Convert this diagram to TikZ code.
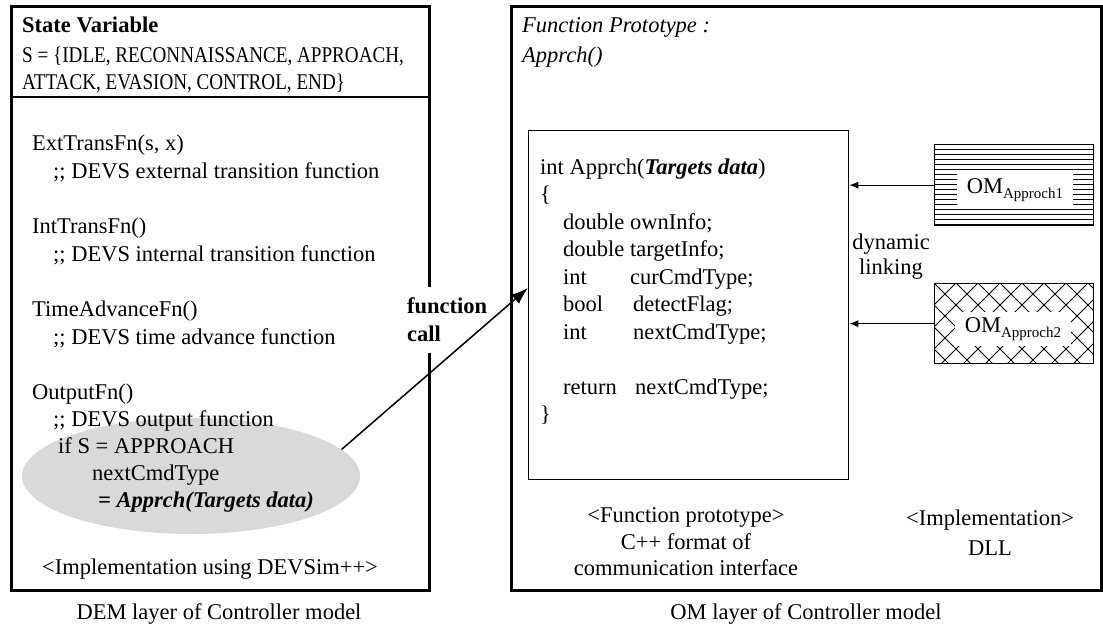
\documentclass[tikz,border=0pt]{standalone}
\usepackage{fontspec}
\setmainfont{Liberation Serif}
\usetikzlibrary{arrows.meta,shapes.geometric}
\newcommand\myfs{\fontsize{22.5}{28}\selectfont}
\newcommand\mysub[1]{\raisebox{-5pt}{\fontsize{15}{15}\selectfont #1}}
\begin{document}
\begin{tikzpicture}[x=1pt,y=-1pt,
  tl/.style={anchor=base west, inner sep=0pt, font=\myfs},
  tc/.style={anchor=base, inner sep=0pt, font=\myfs},
  frame/.style={draw, line width=3pt, anchor=north west, inner sep=0pt},
  thinbox/.style={draw, line width=1.3pt, anchor=north west, inner sep=0pt},
  omlab/.style={fill=white, inner sep=0pt, minimum width=116pt, font=\myfs},
  hatch/.style={line width=1pt},
  link/.style={line width=1pt, -{Latex[length=9pt,width=7pt]}},
  callarrow/.style={line width=1.5pt, -{Latex[length=17pt,width=12pt]}}
]
\useasboundingbox (0,0) rectangle (1103,625);

% ---------------- left panel ----------------
\node[frame, minimum width=418pt, minimum height=584pt] (lbox) at (10,5) {};
\coordinate (sepL) at (10,97);
\coordinate (sepR) at (428,97);
\draw[line width=1.3pt] (sepL) -- (sepR);

\node[tl, font=\myfs\bfseries] (sv) at (22,32) {State Variable};
\node[tl] (s1) at (22,62) {\scalebox{0.85}[1]{S = \{IDLE, RECONNAISSANCE, APPROACH,}};
\node[tl] (s2) at (22,89) {\scalebox{0.85}[1]{ATTACK, EVASION, CONTROL, END\}}};

\node[ellipse, fill=gray!30, minimum width=338pt, minimum height=116pt, inner sep=0pt] (ell) at (191,476) {};

\node[tl] (ext)  at (32,150) {ExtTransFn(s, x)};
\node[tl] (extc) at (53,178) {;; DEVS external transition function};
\node[tl] (intf) at (32,233) {IntTransFn()};
\node[tl] (intc) at (53,261) {;; DEVS internal transition function};
\node[tl] (ta)   at (32,316) {TimeAdvanceFn()};
\node[tl] (tac)  at (53,344) {;; DEVS time advance function};
\node[tl] (out)  at (32,399) {OutputFn()};
\node[tl] (outc) at (53,426) {;; DEVS output function};
\node[tl] (ifs)  at (58,453) {if S = APPROACH};
\node[tl] (nct)  at (92,480) {nextCmdType};
\node[tl, font=\myfs\bfseries\itshape] (eq) at (98,507) {= Apprch(Targets data)};
\node[tc] (impl) at (210,574) {<Implementation using DEVSim++>};
\node[tc] (cap1) at (219,619) {DEM layer of Controller model};

% ---------------- right panel ----------------
\node[frame, minimum width=590pt, minimum height=584pt] (rbox) at (510,5) {};
\node[tl, font=\myfs\itshape] (fp1) at (522,32) {Function Prototype :};
\node[tl, font=\myfs\itshape] (fp2) at (522,62) {Apprch()};

\node[thinbox, minimum width=320pt, minimum height=349pt] (cbox) at (528,130) {};
\node[tl] (c1) at (540,174) {int Apprch(\textbf{\textit{Targets data}})};
\node[tl] (c2) at (540,201.5) {\{};
\node[tl] (c3) at (563,229) {double ownInfo;};
\node[tl] (c4) at (563,256.5) {double targetInfo;};
\node[tl] (c5a) at (563,284) {int};
\node[tl] (c5b) at (630,284) {curCmdType;};
\node[tl] (c6a) at (563,311.5) {bool};
\node[tl] (c6b) at (633,311.5) {detectFlag;};
\node[tl] (c7a) at (563,339) {int};
\node[tl] (c7b) at (633,339) {nextCmdType;};
\node[tl] (c8a) at (563,394) {return};
\node[tl] (c8b) at (635,394) {nextCmdType;};
\node[tl] (c9) at (540,421.5) {\}};

\node[tc] (fpa) at (686,522) {<Function prototype>};
\node[tc] (fpb) at (686,549) {C++ format of};
\node[tc] (fpc) at (686,575) {communication interface};
\node[tc] (ima) at (990,525) {<Implementation>};
\node[tc] (imb) at (990,555) {DLL};
\node[tc] (cap2) at (806,619) {OM layer of Controller model};

\node[tc] (dl1) at (891,249) {dynamic};
\node[tc] (dl2) at (891,274) {linking};

% OM boxes with fill patterns
\begin{scope}
  \clip (934,144) rectangle (1093,225);
  \foreach \i in {0,...,16} {\draw[hatch] (934,144+\i*5.06) -- (1093,144+\i*5.06);}
\end{scope}
\begin{scope}
  \clip (934,283) rectangle (1093,363);
  \foreach \c in {-110,-88,...,280} {
    \draw[hatch] (934+\c,283) -- ++(100,100);
    \draw[hatch] (934+\c,283) -- ++(-100,100);
  }
\end{scope}
\node[thinbox, minimum width=159pt, minimum height=81pt] (om1) at (934,144) {};
\node[thinbox, minimum width=159pt, minimum height=80pt] (om2) at (934,283) {};
\node[omlab, minimum height=38pt] (l1) at (1015,190) {OM\mysub{Approch1}};
\node[omlab, minimum height=34pt] (l2) at (1013,329) {OM\mysub{Approch2}};

\draw[link] (om1.west) -- (om1.west -| cbox.east);
\draw[link] (om2.west) -- (om2.west -| cbox.east);

% function call
\node[anchor=west, fill=white, align=left, inner xsep=3pt, inner ysep=11pt, font=\myfs\bfseries] (fc) at (404,320) {function\\call};
\coordinate (tip) at (528,288);
\draw[callarrow] (ell.10) -- (tip);
\end{tikzpicture}
\end{document}
